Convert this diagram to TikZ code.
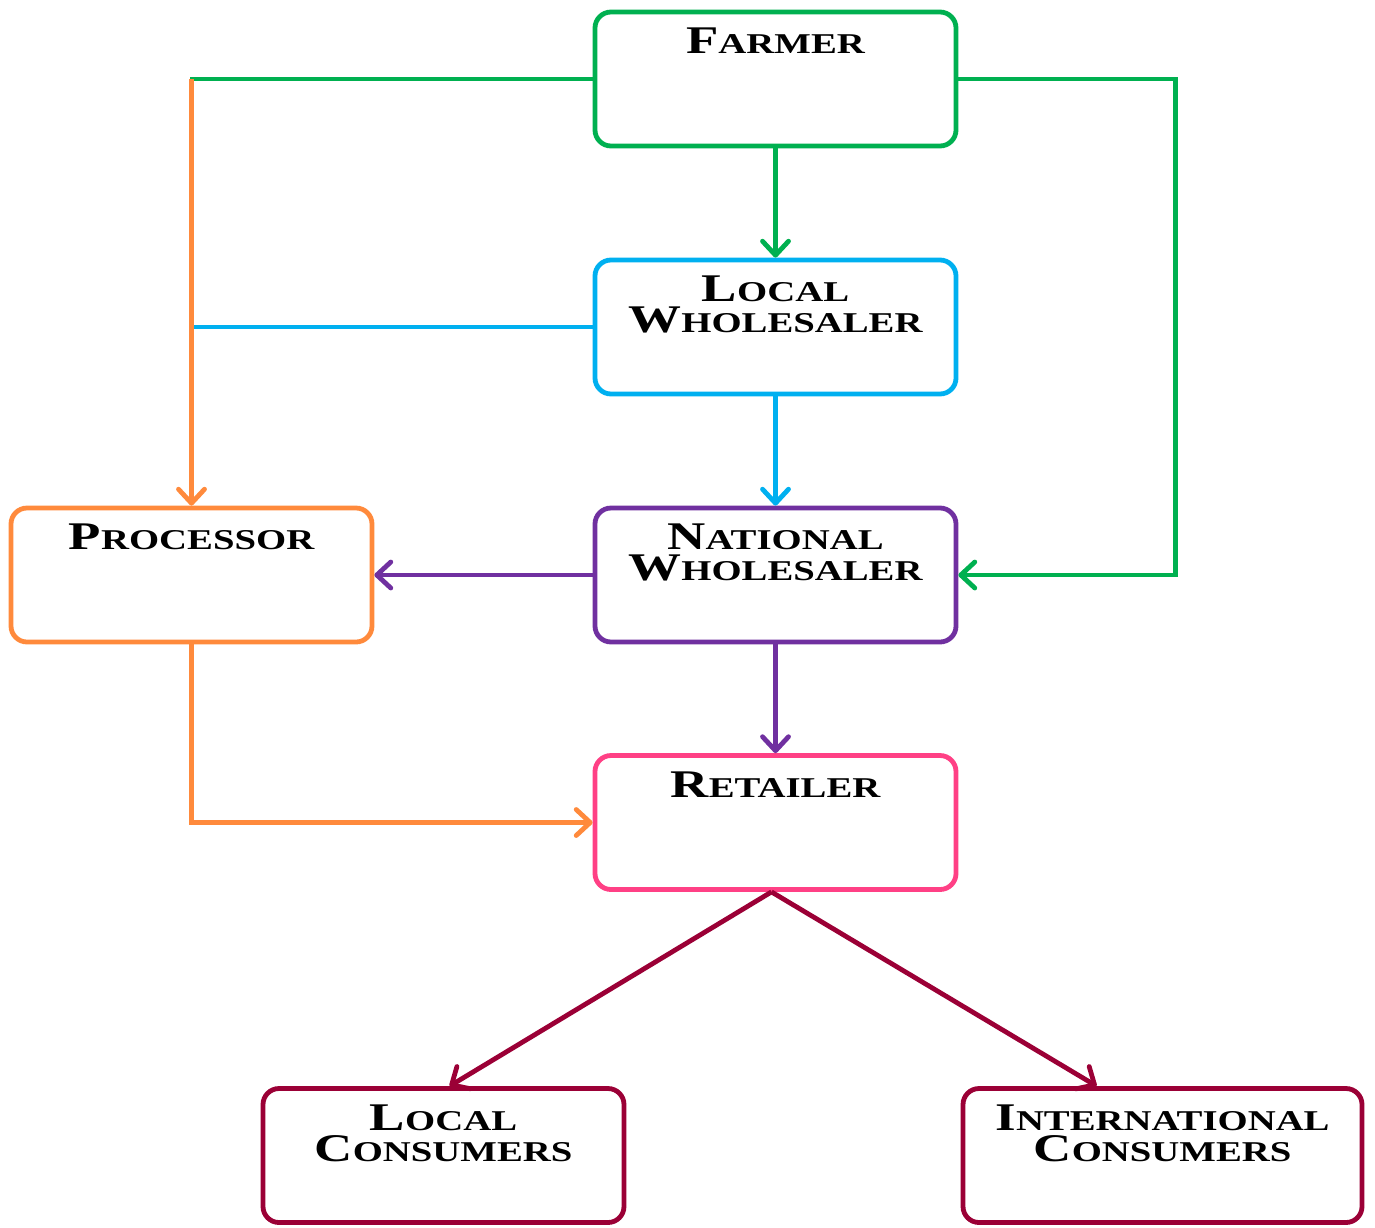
\documentclass[tikz,border=0pt]{standalone}
\usepackage{fontspec}
\usetikzlibrary{arrows.meta,calc}
\newfontfamily\cpfont[FakeStretch=1.35]{Liberation Serif}
% large initial capital followed by small capitals
\newcommand\capword[2]{{\fontsize{19.6}{15.5}\selectfont #1}{\fontsize{14.35}{15.5}\selectfont #2}}
\definecolor{cgreen}{HTML}{00B050}
\definecolor{cblue}{HTML}{00B0F0}
\definecolor{cpurple}{HTML}{7030A0}
\definecolor{corange}{HTML}{FF8A3C}
\definecolor{cpink}{HTML}{FF4085}
\definecolor{cdred}{HTML}{9B0036}
\begin{document}
\begin{tikzpicture}[x=0.5pt,y=-0.5pt,
  box/.style={draw=#1, line width=2.4pt, rounded corners=8pt, minimum width=180.5pt,
    minimum height=67pt, inner sep=0pt, fill=white},
  lbl/.style={anchor=north, align=center, inner sep=0pt, text=black,
    font=\cpfont\bfseries\fontsize{14.35}{15.5}\selectfont},
  link/.style={line width=2.4pt},
  arr/.style={link, -{Straight Barb[length=7pt,width=13pt,round]}}]
\useasboundingbox (0,0) rectangle (1375,1227);

% boxes
\node[box=cgreen]  (far)  at (775.5,79)    {};
\node[box=cblue]   (lw)   at (775.5,327)   {};
\node[box=cpurple] (nw)   at (775.5,575)   {};
\node[box=corange] (proc) at (191.5,575)   {};
\node[box=cpink]   (ret)  at (775.5,822.5) {};
\node[box=cdred]   (lc)   at (443.5,1155.5) {};
\node[box=cdred, minimum width=199.5pt] (ic) at (1162.5,1155.5) {};

% labels
\node[lbl] (farT)  at ($(far.north)+(0,18)$)  {\capword{F}{ARMER}};
\node[lbl] (lwT)   at ($(lw.north)+(0,18)$)   {\capword{L}{OCAL}\\\capword{W}{HOLESALER}};
\node[lbl] (nwT)   at ($(nw.north)+(0,18)$)   {\capword{N}{ATIONAL}\\\capword{W}{HOLESALER}};
\node[lbl] (procT) at ($(proc.north)+(0,18)$) {\capword{P}{ROCESSOR}};
\node[lbl] (retT)  at ($(ret.north)+(0,18)$)  {\capword{R}{ETAILER}};
\node[lbl] (lcT)   at ($(lc.north)+(0,18)$)   {\capword{L}{OCAL}\\\capword{C}{ONSUMERS}};
\node[lbl] (icT)   at ($(ic.north)+(0,18)$)   {\capword{I}{NTERNATIONAL}\\\capword{C}{ONSUMERS}};

% junction points
\coordinate (fl) at (proc.north |- far.west);
\coordinate (bl) at (proc.north |- lw.west);
\coordinate (rb) at ($(ret.south)+(-4,0)$);
\coordinate (lcin) at ($(lc.north west)+(189,0)$);
\coordinate (icin) at ($(ic.north west)+(136,0)$);

% connectors
\draw[arr, cgreen] (far) -- (lw);
\draw[arr, cblue] (lw) -- (nw);
\draw[arr, cpurple] (nw) -- (proc);
\draw[arr, cpurple] (nw) -- (ret);
\draw[link, cgreen] (far.west) -- ($(fl)+(-2,0)$);
\draw[link, cblue] (lw.west) -- ($(bl)+(-2,0)$);
\draw[arr, corange] (fl) -- (proc.north);
\draw[arr, cgreen] (far.east) -- ++(217,0) |- (nw.east);
\draw[arr, corange] (proc.south) |- (ret.west);
\draw[arr, cdred] (rb) -- (lcin);
\draw[arr, cdred] (rb) -- (icin);
\end{tikzpicture}
\end{document}
